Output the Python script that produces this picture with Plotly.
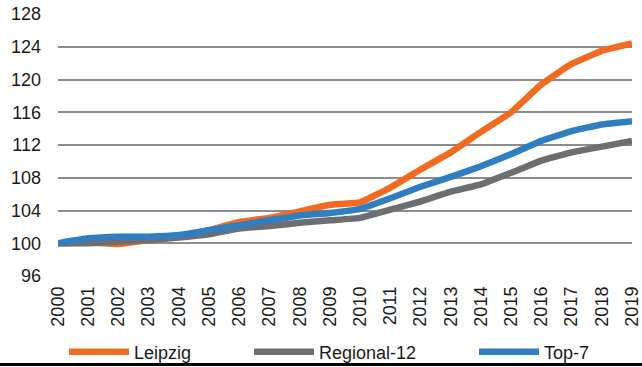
import plotly.graph_objects as go

years = list(range(2000, 2020))
leipzig = [100.0, 100.1, 99.9, 100.4, 100.8, 101.6, 102.6, 103.1, 103.9, 104.7,
           105.0, 106.8, 109.0, 111.1, 113.6, 116.0, 119.4, 121.9, 123.5, 124.4]
regional12 = [100.0, 100.0, 100.2, 100.4, 100.7, 101.1, 101.8, 102.1, 102.5, 102.8,
              103.1, 104.1, 105.1, 106.3, 107.2, 108.6, 110.1, 111.1, 111.8, 112.5]
top7 = [100.0, 100.6, 100.8, 100.8, 101.0, 101.6, 102.2, 102.8, 103.4, 103.7,
        104.2, 105.5, 106.9, 108.1, 109.4, 110.9, 112.5, 113.7, 114.5, 114.9]
y_ticks = [96, 100, 104, 108, 112, 116, 120, 124, 128]

series = [("Leipzig", leipzig, "#F26B21", "legend"),
          ("Regional-12", regional12, "#6D6E71", "legend2"),
          ("Top-7", top7, "#2E7EC1", "legend3")]

fig = go.Figure()
for name, vals, col, lg in series:
    fig.add_trace(go.Scatter(x=years, y=vals, name=name, mode="lines", showlegend=True,
                             line=dict(color=col, width=6.5, shape="spline", smoothing=0.3),
                             legend=lg))

font = dict(family="Liberation Sans, Arial, sans-serif", size=18, color="#1a1a1a")
ly = 1 - 352 / 367
legend_common = dict(orientation="h", yanchor="middle", xanchor="left",
                     xref="container", yref="container",
                     bgcolor="rgba(0,0,0,0)", font=font, itemwidth=60)
fig.update_layout(
    width=642, height=367, showlegend=True,
    margin=dict(l=58, r=10, t=14, b=91, autoexpand=False),
    paper_bgcolor="white", plot_bgcolor="white",
    font=font,
    legend=dict(x=64 / 642, y=ly, **legend_common),
    legend2=dict(x=249 / 642, y=ly, **legend_common),
    legend3=dict(x=474 / 642, y=ly, **legend_common),
    xaxis=dict(range=[2000, 2019], tickmode="array", tickvals=years,
               ticktext=[str(y) for y in years], tickangle=-90,
               showgrid=False, zeroline=False, showline=False, ticks="",
               ticklabelstandoff=6),
    yaxis=dict(range=[96, 128], tickmode="array", tickvals=y_ticks,
               showgrid=True, gridcolor="#8C8C8C", gridwidth=2,
               zeroline=False, showline=False, ticks="", ticklabelstandoff=16),
)
fig.add_shape(type="line", xref="paper", yref="paper",
              x0=-58 / 574, x1=1 + 10 / 574, y0=(276 - 364.5) / 262, y1=(276 - 364.5) / 262,
              line=dict(color="black", width=3))
fig.write_html("out.html", config={"displayModeBar": False},
               post_script="document.body.style.margin='0';")
